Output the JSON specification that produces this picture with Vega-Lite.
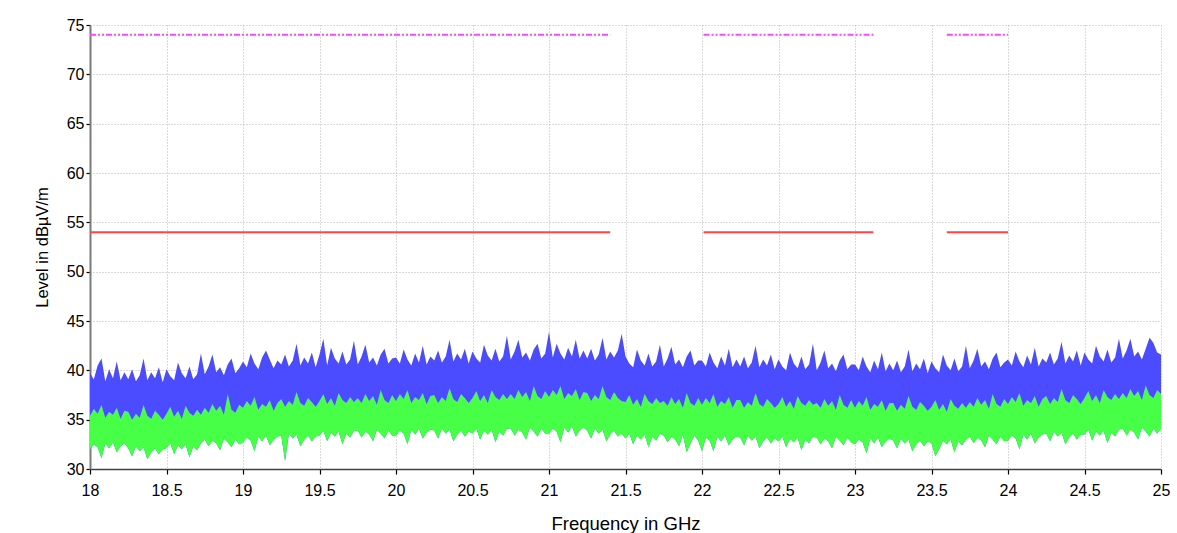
{
  "$schema": "https://vega.github.io/schema/vega-lite/v6.json",
  "autosize": {"type": "none"},
  "padding": {"left": 90, "top": 25, "right": 16, "bottom": 64},
  "width": 1071,
  "height": 444,
  "background": "white",
  "config": {"view": {"stroke": null}, "font": "Liberation Sans"},
  "datasets": {
    "trace": [
      {"f":18.000,"bt":39.7,"gt":35.4,"gb":32.0},{"f":18.025,"bt":39.1,"gt":36.1,"gb":32.5},{"f":18.050,"bt":40.5,"gt":35.6,"gb":32.2},{"f":18.075,"bt":41.2,"gt":36.5,"gb":31.1},{"f":18.100,"bt":38.9,"gt":35.2,"gb":32.6},
      {"f":18.125,"bt":40.1,"gt":35.8,"gb":32.1},{"f":18.150,"bt":39.2,"gt":35.5,"gb":32.7},{"f":18.175,"bt":40.9,"gt":36.2,"gb":31.7},{"f":18.200,"bt":39.0,"gt":35.1,"gb":32.3},{"f":18.225,"bt":39.8,"gt":35.9,"gb":32.6},
      {"f":18.250,"bt":39.1,"gt":35.8,"gb":32.1},{"f":18.275,"bt":40.1,"gt":35.0,"gb":31.3},{"f":18.300,"bt":38.9,"gt":35.6,"gb":32.3},{"f":18.325,"bt":39.5,"gt":35.2,"gb":31.8},{"f":18.350,"bt":41.2,"gt":36.5,"gb":32.2},
      {"f":18.375,"bt":39.0,"gt":35.4,"gb":31.0},{"f":18.400,"bt":39.8,"gt":35.1,"gb":31.7},{"f":18.425,"bt":39.2,"gt":35.9,"gb":32.1},{"f":18.450,"bt":40.3,"gt":35.5,"gb":31.5},{"f":18.475,"bt":38.8,"gt":35.0,"gb":32.0},
      {"f":18.500,"bt":40.1,"gt":35.6,"gb":32.1},{"f":18.525,"bt":39.4,"gt":36.3,"gb":32.6},{"f":18.550,"bt":39.0,"gt":35.3,"gb":31.5},{"f":18.575,"bt":40.8,"gt":35.9,"gb":32.4},{"f":18.600,"bt":39.7,"gt":35.1,"gb":32.0},
      {"f":18.625,"bt":39.2,"gt":36.4,"gb":32.5},{"f":18.650,"bt":40.4,"gt":35.7,"gb":31.2},{"f":18.675,"bt":39.1,"gt":35.4,"gb":32.3},{"f":18.700,"bt":39.6,"gt":36.0,"gb":31.9},{"f":18.725,"bt":41.7,"gt":35.5,"gb":32.6},
      {"f":18.750,"bt":39.6,"gt":36.2,"gb":33.0},{"f":18.775,"bt":40.4,"gt":35.7,"gb":32.3},{"f":18.800,"bt":41.6,"gt":36.6,"gb":32.9},{"f":18.825,"bt":39.8,"gt":35.9,"gb":32.6},{"f":18.850,"bt":40.3,"gt":36.4,"gb":31.9},
      {"f":18.875,"bt":39.5,"gt":35.5,"gb":33.1},{"f":18.900,"bt":40.6,"gt":37.6,"gb":32.7},{"f":18.925,"bt":41.2,"gt":36.0,"gb":32.2},{"f":18.950,"bt":39.7,"gt":35.7,"gb":33.0},{"f":18.975,"bt":40.2,"gt":36.5,"gb":32.5},
      {"f":19.000,"bt":40.9,"gt":36.2,"gb":32.7},{"f":19.025,"bt":40.3,"gt":36.9,"gb":33.2},{"f":19.050,"bt":41.7,"gt":36.4,"gb":32.9},{"f":19.075,"bt":40.7,"gt":37.3,"gb":31.8},{"f":19.100,"bt":40.1,"gt":36.0,"gb":33.3},
      {"f":19.125,"bt":41.3,"gt":36.6,"gb":32.8},{"f":19.150,"bt":42.0,"gt":36.3,"gb":33.4},{"f":19.175,"bt":41.1,"gt":37.0,"gb":32.4},{"f":19.200,"bt":40.2,"gt":35.9,"gb":33.0},{"f":19.225,"bt":41.0,"gt":36.7,"gb":33.3},
      {"f":19.250,"bt":40.6,"gt":37.1,"gb":33.4},{"f":19.275,"bt":41.6,"gt":36.3,"gb":30.8},{"f":19.300,"bt":40.4,"gt":36.9,"gb":33.6},{"f":19.325,"bt":41.0,"gt":36.5,"gb":33.1},{"f":19.350,"bt":42.7,"gt":37.8,"gb":33.5},
      {"f":19.375,"bt":40.5,"gt":36.7,"gb":32.3},{"f":19.400,"bt":41.3,"gt":36.4,"gb":33.0},{"f":19.425,"bt":40.7,"gt":37.2,"gb":33.4},{"f":19.450,"bt":41.8,"gt":36.8,"gb":32.8},{"f":19.475,"bt":40.3,"gt":36.3,"gb":33.3},
      {"f":19.500,"bt":41.6,"gt":36.9,"gb":33.4},{"f":19.525,"bt":43.2,"gt":37.6,"gb":33.9},{"f":19.550,"bt":40.5,"gt":36.6,"gb":32.8},{"f":19.575,"bt":42.3,"gt":37.2,"gb":33.7},{"f":19.600,"bt":41.2,"gt":36.4,"gb":33.3},
      {"f":19.625,"bt":40.7,"gt":37.7,"gb":33.8},{"f":19.650,"bt":41.9,"gt":37.0,"gb":32.5},{"f":19.675,"bt":40.6,"gt":36.7,"gb":33.6},{"f":19.700,"bt":41.1,"gt":37.3,"gb":33.2},{"f":19.725,"bt":43.0,"gt":36.8,"gb":33.9},
      {"f":19.750,"bt":40.6,"gt":37.2,"gb":33.9},{"f":19.775,"bt":41.4,"gt":36.7,"gb":33.2},{"f":19.800,"bt":42.6,"gt":37.6,"gb":33.8},{"f":19.825,"bt":40.8,"gt":36.9,"gb":33.5},{"f":19.850,"bt":41.3,"gt":37.4,"gb":32.8},
      {"f":19.875,"bt":40.5,"gt":36.5,"gb":34.0},{"f":19.900,"bt":41.6,"gt":38.0,"gb":33.6},{"f":19.925,"bt":42.2,"gt":37.0,"gb":33.1},{"f":19.950,"bt":40.7,"gt":36.7,"gb":33.9},{"f":19.975,"bt":41.2,"gt":37.5,"gb":33.4},
      {"f":20.000,"bt":41.3,"gt":36.9,"gb":33.4},{"f":20.025,"bt":40.7,"gt":37.6,"gb":33.9},{"f":20.050,"bt":42.1,"gt":37.1,"gb":33.6},{"f":20.075,"bt":41.1,"gt":38.0,"gb":32.5},{"f":20.100,"bt":40.5,"gt":36.7,"gb":34.0},
      {"f":20.125,"bt":41.7,"gt":37.3,"gb":33.5},{"f":20.150,"bt":40.8,"gt":37.0,"gb":34.1},{"f":20.175,"bt":42.5,"gt":37.7,"gb":33.1},{"f":20.200,"bt":40.6,"gt":36.6,"gb":33.7},{"f":20.225,"bt":41.4,"gt":37.4,"gb":34.0},
      {"f":20.250,"bt":41.0,"gt":37.5,"gb":33.9},{"f":20.275,"bt":42.0,"gt":36.7,"gb":33.1},{"f":20.300,"bt":40.8,"gt":37.3,"gb":34.1},{"f":20.325,"bt":41.4,"gt":36.9,"gb":33.6},{"f":20.350,"bt":43.1,"gt":38.2,"gb":34.0},
      {"f":20.375,"bt":40.9,"gt":37.1,"gb":32.8},{"f":20.400,"bt":41.7,"gt":36.8,"gb":33.5},{"f":20.425,"bt":41.1,"gt":37.6,"gb":33.9},{"f":20.450,"bt":42.2,"gt":37.2,"gb":33.3},{"f":20.475,"bt":40.7,"gt":36.7,"gb":33.8},
      {"f":20.500,"bt":41.9,"gt":37.2,"gb":33.6},{"f":20.525,"bt":41.2,"gt":37.9,"gb":34.1},{"f":20.550,"bt":40.8,"gt":36.9,"gb":33.0},{"f":20.575,"bt":42.6,"gt":37.5,"gb":33.9},{"f":20.600,"bt":41.5,"gt":36.7,"gb":33.5},
      {"f":20.625,"bt":41.0,"gt":38.0,"gb":34.0},{"f":20.650,"bt":42.2,"gt":37.3,"gb":32.7},{"f":20.675,"bt":40.9,"gt":37.0,"gb":33.8},{"f":20.700,"bt":41.4,"gt":37.6,"gb":33.4},{"f":20.725,"bt":43.5,"gt":37.1,"gb":34.1},
      {"f":20.750,"bt":41.1,"gt":37.6,"gb":34.1},{"f":20.775,"bt":41.9,"gt":37.1,"gb":33.4},{"f":20.800,"bt":43.1,"gt":38.0,"gb":34.0},{"f":20.825,"bt":41.3,"gt":37.3,"gb":33.7},{"f":20.850,"bt":41.8,"gt":37.8,"gb":33.0},
      {"f":20.875,"bt":41.0,"gt":36.9,"gb":34.2},{"f":20.900,"bt":42.1,"gt":38.4,"gb":33.8},{"f":20.925,"bt":42.7,"gt":37.4,"gb":33.3},{"f":20.950,"bt":41.2,"gt":37.1,"gb":34.1},{"f":20.975,"bt":41.7,"gt":37.9,"gb":33.6},
      {"f":21.000,"bt":43.9,"gt":37.3,"gb":33.6},{"f":21.025,"bt":41.3,"gt":38.0,"gb":34.1},{"f":21.050,"bt":42.7,"gt":37.5,"gb":33.8},{"f":21.075,"bt":41.7,"gt":38.4,"gb":32.7},{"f":21.100,"bt":41.1,"gt":37.1,"gb":34.2},
      {"f":21.125,"bt":42.3,"gt":37.7,"gb":33.7},{"f":21.150,"bt":41.4,"gt":37.4,"gb":34.3},{"f":21.175,"bt":43.1,"gt":38.1,"gb":33.3},{"f":21.200,"bt":41.2,"gt":37.0,"gb":33.9},{"f":21.225,"bt":42.0,"gt":37.8,"gb":34.2},
      {"f":21.250,"bt":41.2,"gt":37.7,"gb":33.9},{"f":21.275,"bt":42.2,"gt":36.9,"gb":33.1},{"f":21.300,"bt":41.0,"gt":37.5,"gb":34.1},{"f":21.325,"bt":41.6,"gt":37.1,"gb":33.6},{"f":21.350,"bt":43.3,"gt":38.4,"gb":34.0},
      {"f":21.375,"bt":41.1,"gt":37.3,"gb":32.8},{"f":21.400,"bt":41.9,"gt":37.0,"gb":33.5},{"f":21.425,"bt":41.3,"gt":37.8,"gb":33.9},{"f":21.450,"bt":42.0,"gt":37.2,"gb":33.3},{"f":21.475,"bt":43.7,"gt":36.9,"gb":33.6},
      {"f":21.500,"bt":41.4,"gt":36.8,"gb":33.1},{"f":21.525,"bt":40.7,"gt":37.5,"gb":33.6},{"f":21.550,"bt":40.3,"gt":36.5,"gb":32.5},{"f":21.575,"bt":42.1,"gt":37.1,"gb":33.4},{"f":21.600,"bt":41.0,"gt":36.3,"gb":33.0},
      {"f":21.625,"bt":40.5,"gt":37.6,"gb":33.5},{"f":21.650,"bt":41.7,"gt":36.9,"gb":32.2},{"f":21.675,"bt":40.4,"gt":36.6,"gb":33.3},{"f":21.700,"bt":40.9,"gt":37.2,"gb":32.9},{"f":21.725,"bt":42.6,"gt":36.7,"gb":33.6},
      {"f":21.750,"bt":40.4,"gt":36.9,"gb":33.4},{"f":21.775,"bt":41.2,"gt":36.4,"gb":32.7},{"f":21.800,"bt":42.4,"gt":37.3,"gb":33.3},{"f":21.825,"bt":40.6,"gt":36.6,"gb":33.0},{"f":21.850,"bt":41.1,"gt":37.1,"gb":32.3},
      {"f":21.875,"bt":40.3,"gt":36.2,"gb":33.5},{"f":21.900,"bt":41.4,"gt":37.7,"gb":31.7},{"f":21.925,"bt":42.0,"gt":36.7,"gb":32.6},{"f":21.950,"bt":40.5,"gt":36.4,"gb":33.4},{"f":21.975,"bt":41.0,"gt":37.2,"gb":32.9},
      {"f":22.000,"bt":41.0,"gt":36.5,"gb":31.8},{"f":22.025,"bt":40.4,"gt":37.2,"gb":33.2},{"f":22.050,"bt":41.8,"gt":36.7,"gb":32.9},{"f":22.075,"bt":40.8,"gt":37.6,"gb":31.8},{"f":22.100,"bt":40.2,"gt":36.3,"gb":33.3},
      {"f":22.125,"bt":41.4,"gt":36.9,"gb":32.8},{"f":22.150,"bt":40.5,"gt":36.6,"gb":33.4},{"f":22.175,"bt":42.2,"gt":37.3,"gb":32.4},{"f":22.200,"bt":40.3,"gt":36.2,"gb":33.0},{"f":22.225,"bt":41.1,"gt":37.0,"gb":33.3},
      {"f":22.250,"bt":40.4,"gt":37.0,"gb":33.2},{"f":22.275,"bt":41.4,"gt":36.2,"gb":32.4},{"f":22.300,"bt":40.2,"gt":36.8,"gb":33.4},{"f":22.325,"bt":40.8,"gt":36.4,"gb":32.9},{"f":22.350,"bt":42.5,"gt":37.7,"gb":33.3},
      {"f":22.375,"bt":40.3,"gt":36.6,"gb":32.1},{"f":22.400,"bt":41.1,"gt":36.3,"gb":32.8},{"f":22.425,"bt":40.5,"gt":37.1,"gb":33.2},{"f":22.450,"bt":41.6,"gt":36.7,"gb":32.6},{"f":22.475,"bt":40.1,"gt":36.2,"gb":33.1},
      {"f":22.500,"bt":41.1,"gt":36.6,"gb":32.8},{"f":22.525,"bt":40.4,"gt":37.3,"gb":33.3},{"f":22.550,"bt":40.0,"gt":36.3,"gb":32.2},{"f":22.575,"bt":41.8,"gt":36.9,"gb":33.1},{"f":22.600,"bt":40.7,"gt":36.1,"gb":32.7},
      {"f":22.625,"bt":40.2,"gt":37.4,"gb":33.2},{"f":22.650,"bt":41.4,"gt":36.7,"gb":31.9},{"f":22.675,"bt":40.1,"gt":36.4,"gb":33.0},{"f":22.700,"bt":40.6,"gt":37.0,"gb":32.6},{"f":22.725,"bt":42.7,"gt":36.5,"gb":33.3},
      {"f":22.750,"bt":40.0,"gt":36.7,"gb":33.2},{"f":22.775,"bt":40.8,"gt":36.2,"gb":32.5},{"f":22.800,"bt":42.0,"gt":37.1,"gb":33.1},{"f":22.825,"bt":40.2,"gt":36.4,"gb":32.8},{"f":22.850,"bt":40.7,"gt":36.9,"gb":32.1},
      {"f":22.875,"bt":39.9,"gt":36.0,"gb":33.3},{"f":22.900,"bt":41.0,"gt":37.5,"gb":32.9},{"f":22.925,"bt":41.6,"gt":36.5,"gb":32.4},{"f":22.950,"bt":40.1,"gt":36.2,"gb":33.2},{"f":22.975,"bt":40.6,"gt":37.0,"gb":32.7},
      {"f":23.000,"bt":40.6,"gt":36.2,"gb":32.5},{"f":23.025,"bt":40.0,"gt":36.9,"gb":33.0},{"f":23.050,"bt":41.4,"gt":36.4,"gb":32.7},{"f":23.075,"bt":40.4,"gt":37.3,"gb":31.6},{"f":23.100,"bt":39.8,"gt":36.0,"gb":33.1},
      {"f":23.125,"bt":41.0,"gt":36.6,"gb":32.6},{"f":23.150,"bt":40.1,"gt":36.3,"gb":33.2},{"f":23.175,"bt":41.8,"gt":37.0,"gb":32.2},{"f":23.200,"bt":39.9,"gt":35.9,"gb":32.8},{"f":23.225,"bt":40.7,"gt":36.7,"gb":33.1},
      {"f":23.250,"bt":40.0,"gt":36.7,"gb":32.9},{"f":23.275,"bt":41.0,"gt":35.9,"gb":32.1},{"f":23.300,"bt":39.8,"gt":36.5,"gb":33.1},{"f":23.325,"bt":40.4,"gt":36.1,"gb":32.6},{"f":23.350,"bt":42.1,"gt":37.4,"gb":33.0},
      {"f":23.375,"bt":39.9,"gt":36.3,"gb":31.8},{"f":23.400,"bt":40.7,"gt":36.0,"gb":32.5},{"f":23.425,"bt":40.1,"gt":36.8,"gb":32.9},{"f":23.450,"bt":41.2,"gt":36.4,"gb":32.3},{"f":23.475,"bt":39.7,"gt":35.9,"gb":32.8},
      {"f":23.500,"bt":40.9,"gt":36.3,"gb":32.6},{"f":23.525,"bt":40.2,"gt":37.0,"gb":31.3},{"f":23.550,"bt":39.8,"gt":36.0,"gb":32.0},{"f":23.575,"bt":41.6,"gt":36.6,"gb":32.9},{"f":23.600,"bt":40.5,"gt":35.8,"gb":32.5},
      {"f":23.625,"bt":40.0,"gt":37.1,"gb":33.0},{"f":23.650,"bt":41.2,"gt":36.4,"gb":31.7},{"f":23.675,"bt":39.9,"gt":36.1,"gb":32.8},{"f":23.700,"bt":40.4,"gt":36.7,"gb":32.4},{"f":23.725,"bt":42.5,"gt":36.2,"gb":33.0},
      {"f":23.750,"bt":40.2,"gt":36.8,"gb":33.3},{"f":23.775,"bt":41.0,"gt":36.3,"gb":32.6},{"f":23.800,"bt":42.2,"gt":37.2,"gb":33.2},{"f":23.825,"bt":40.4,"gt":36.5,"gb":32.9},{"f":23.850,"bt":40.9,"gt":37.0,"gb":32.2},
      {"f":23.875,"bt":40.1,"gt":36.1,"gb":33.4},{"f":23.900,"bt":41.2,"gt":37.6,"gb":33.0},{"f":23.925,"bt":41.8,"gt":36.6,"gb":32.5},{"f":23.950,"bt":40.3,"gt":36.3,"gb":33.3},{"f":23.975,"bt":40.8,"gt":37.1,"gb":32.8},
      {"f":24.000,"bt":41.1,"gt":36.6,"gb":32.9},{"f":24.025,"bt":40.5,"gt":37.3,"gb":33.4},{"f":24.050,"bt":41.9,"gt":36.8,"gb":33.1},{"f":24.075,"bt":40.9,"gt":37.7,"gb":32.0},{"f":24.100,"bt":40.3,"gt":36.4,"gb":33.5},
      {"f":24.125,"bt":41.5,"gt":37.0,"gb":33.0},{"f":24.150,"bt":40.6,"gt":36.7,"gb":33.6},{"f":24.175,"bt":42.3,"gt":37.4,"gb":32.6},{"f":24.200,"bt":40.4,"gt":36.3,"gb":33.2},{"f":24.225,"bt":41.2,"gt":37.1,"gb":33.5},
      {"f":24.250,"bt":40.8,"gt":37.4,"gb":33.6},{"f":24.275,"bt":41.8,"gt":36.6,"gb":32.8},{"f":24.300,"bt":40.6,"gt":37.2,"gb":33.8},{"f":24.325,"bt":41.2,"gt":36.8,"gb":33.3},{"f":24.350,"bt":42.9,"gt":38.1,"gb":33.7},
      {"f":24.375,"bt":40.7,"gt":37.0,"gb":32.5},{"f":24.400,"bt":41.5,"gt":36.7,"gb":33.2},{"f":24.425,"bt":40.9,"gt":37.5,"gb":33.6},{"f":24.450,"bt":42.0,"gt":37.1,"gb":33.0},{"f":24.475,"bt":40.5,"gt":36.6,"gb":33.5},
      {"f":24.500,"bt":41.8,"gt":37.2,"gb":33.5},{"f":24.525,"bt":41.1,"gt":37.9,"gb":34.0},{"f":24.550,"bt":40.7,"gt":36.9,"gb":32.9},{"f":24.575,"bt":42.5,"gt":37.5,"gb":33.8},{"f":24.600,"bt":41.4,"gt":36.7,"gb":33.4},
      {"f":24.625,"bt":40.9,"gt":38.0,"gb":33.9},{"f":24.650,"bt":42.1,"gt":37.3,"gb":32.6},{"f":24.675,"bt":40.8,"gt":37.0,"gb":33.7},{"f":24.700,"bt":41.3,"gt":37.6,"gb":33.3},{"f":24.725,"bt":43.2,"gt":37.1,"gb":34.0},
      {"f":24.750,"bt":41.2,"gt":37.7,"gb":34.1},{"f":24.775,"bt":42.0,"gt":37.2,"gb":33.4},{"f":24.800,"bt":43.2,"gt":38.1,"gb":34.0},{"f":24.825,"bt":41.4,"gt":37.4,"gb":33.7},{"f":24.850,"bt":41.9,"gt":37.9,"gb":33.0},
      {"f":24.875,"bt":41.1,"gt":37.0,"gb":34.2},{"f":24.900,"bt":42.2,"gt":38.5,"gb":33.8},{"f":24.925,"bt":43.3,"gt":37.5,"gb":33.3},{"f":24.950,"bt":42.8,"gt":37.2,"gb":34.1},{"f":24.975,"bt":41.8,"gt":38.0,"gb":33.6},
      {"f":25.000,"bt":41.6,"gt":37.6,"gb":34.1}
    ],
    "limits": [
      {"f0":18.0,"f1":21.4,"lvl":74,"kind":"peak"},
      {"f0":22.01,"f1":23.12,"lvl":74,"kind":"peak"},
      {"f0":23.6,"f1":24.0,"lvl":74,"kind":"peak"},
      {"f0":18.0,"f1":21.4,"lvl":54,"kind":"avg"},
      {"f0":22.01,"f1":23.12,"lvl":54,"kind":"avg"},
      {"f0":23.6,"f1":24.0,"lvl":54,"kind":"avg"}
    ]
  },
  "layer": [
    {
      "data": {"name": "trace"},
      "mark": {"type": "area", "color": "#4b4bff", "interpolate": "linear"},
      "encoding": {
        "x": {
          "field": "f", "type": "quantitative",
          "scale": {"domain": [18, 25], "nice": false},
          "axis": {
            "title": "Frequency in GHz",
            "values": [18,18.25,18.5,18.75,19,19.25,19.5,19.75,20,20.25,20.5,20.75,21,21.25,21.5,21.75,22,22.25,22.5,22.75,23,23.25,23.5,23.75,24,24.25,24.5,24.75,25],
            "labelExpr": "datum.value % 0.5 === 0 ? format(datum.value, '~g') : ''",
            "labelFlush": false, "labelOverlap": false,
            "labelFontSize": 16, "labelColor": "#000", "labelPadding": 8,
            "tickSize": 5, "tickColor": "#000", "tickWidth": 1.2,
            "domainColor": "#404040", "domainWidth": 1.5,
            "grid": true, "gridColor": "#b4b4b4", "gridDash": [1, 2], "gridWidth": 1,
            "titleFontSize": 18.5, "titleFontWeight": "normal", "titleColor": "#000", "titlePadding": 16
          }
        },
        "y": {
          "field": "bt", "type": "quantitative",
          "scale": {"domain": [30, 75], "nice": false, "zero": false},
          "axis": {
            "title": "Level in dBµV/m",
            "values": [30,32.5,35,37.5,40,42.5,45,47.5,50,52.5,55,57.5,60,62.5,65,67.5,70,72.5,75],
            "labelExpr": "datum.value % 5 === 0 ? format(datum.value, '~g') : ''",
            "labelFlush": false, "labelOverlap": false,
            "labelFontSize": 16, "labelColor": "#000", "labelPadding": 2,
            "tickSize": 4, "tickColor": "#000", "tickWidth": 1.2,
            "domainColor": "#7a7a7a", "domainWidth": 2,
            "grid": true, "gridColor": "#b4b4b4", "gridDash": [1, 2], "gridWidth": 1,
            "titleFontSize": 16.5, "titleFontWeight": "normal", "titleColor": "#000", "titlePadding": 16
          }
        },
        "y2": {"field": "gb"}
      }
    },
    {
      "data": {"name": "trace"},
      "mark": {"type": "area", "color": "#46ff46", "interpolate": "linear"},
      "encoding": {
        "x": {"field": "f", "type": "quantitative"},
        "y": {"field": "gt", "type": "quantitative"},
        "y2": {"field": "gb"}
      }
    },
    {
      "data": {"name": "limits"},
      "transform": [{"filter": "datum.kind === 'avg'"}],
      "mark": {"type": "rule", "color": "#ff4646", "strokeWidth": 2},
      "encoding": {
        "x": {"field": "f0", "type": "quantitative"},
        "x2": {"field": "f1"},
        "y": {"field": "lvl", "type": "quantitative"}
      }
    },
    {
      "data": {"name": "limits"},
      "transform": [{"filter": "datum.kind === 'peak'"}],
      "mark": {"type": "rule", "color": "#ff46ff", "strokeWidth": 2, "strokeDash": [6, 2, 2, 2, 2, 2]},
      "encoding": {
        "x": {"field": "f0", "type": "quantitative"},
        "x2": {"field": "f1"},
        "y": {"field": "lvl", "type": "quantitative"}
      }
    }
  ]
}
